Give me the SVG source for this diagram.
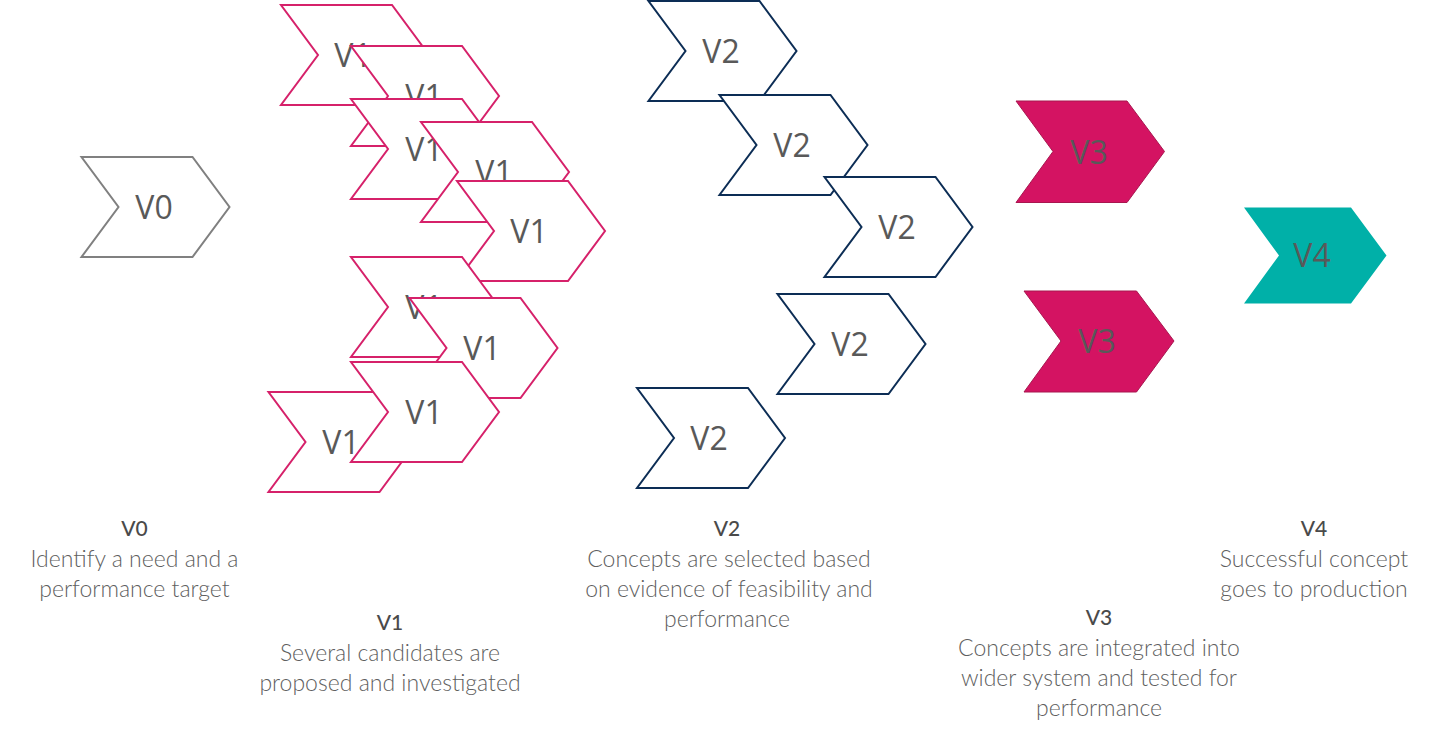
<svg xmlns="http://www.w3.org/2000/svg" xmlns:xlink="http://www.w3.org/1999/xlink" width="1430" height="735" viewBox="0 0 1430 735">
<style>
.v0{fill:#fff;stroke:#808080;stroke-width:2}
.v1{fill:#fff;stroke:#D6216A;stroke-width:2}
.v2{fill:#fff;stroke:#0C2D55;stroke-width:2}
.v3{fill:#D41362;stroke:#A8164F;stroke-width:1}
.v4{fill:#00B0A8}
.t{font-family:"Open Sans","Liberation Sans",sans-serif;font-size:32px;fill:#595959;text-anchor:middle}
.h{font-family:Lato,"Open Sans",sans-serif;font-size:21px;font-weight:500;fill:#4a4a4a;text-anchor:middle}
.d{font-family:Lato,"Open Sans",sans-serif;font-size:23px;font-weight:300;fill:#5f5f5f;text-anchor:middle}
</style>
<defs>
<polygon id="chev" points="0,0 111,0 148,50 111,100 0,100 37,50"/>
</defs>
<rect width="1430" height="735" fill="#fff"/>

<g id="node-v0">
<use xlink:href="#chev" href="#chev" class="v0" x="81.5" y="157"/>
<text class="t" x="154" y="219">V0</text>
</g>

<g id="node-v1-i"><use href="#chev" xlink:href="#chev" class="v1" x="268.5" y="392"/><text class="t" x="341" y="454">V1</text></g>
<g id="node-v1-a"><use href="#chev" xlink:href="#chev" class="v1" x="281" y="5"/><text class="t" x="353" y="67">V1</text></g>
<g id="node-v1-b"><use href="#chev" xlink:href="#chev" class="v1" x="351" y="46"/><text class="t" x="424" y="108">V1</text></g>
<g id="node-v1-c"><use href="#chev" xlink:href="#chev" class="v1" x="351" y="99"/><text class="t" x="424" y="161">V1</text></g>
<g id="node-v1-d"><use href="#chev" xlink:href="#chev" class="v1" x="421" y="122"/><text class="t" x="494" y="184">V1</text></g>
<g id="node-v1-e"><use href="#chev" xlink:href="#chev" class="v1" x="457" y="181"/><text class="t" x="529" y="243">V1</text></g>
<g id="node-v1-f"><use href="#chev" xlink:href="#chev" class="v1" x="351" y="257"/><text class="t" x="424" y="319">V1</text></g>
<g id="node-v1-g"><use href="#chev" xlink:href="#chev" class="v1" x="409.5" y="298"/><text class="t" x="482" y="360">V1</text></g>
<g id="node-v1-h"><use href="#chev" xlink:href="#chev" class="v1" x="351" y="362"/><text class="t" x="424" y="424">V1</text></g>

<g id="node-v2-a"><use href="#chev" xlink:href="#chev" class="v2" x="648.5" y="1"/><text class="t" x="721" y="63">V2</text></g>
<g id="node-v2-b"><use href="#chev" xlink:href="#chev" class="v2" x="719.5" y="95"/><text class="t" x="792" y="157">V2</text></g>
<g id="node-v2-c"><use href="#chev" xlink:href="#chev" class="v2" x="824.5" y="177"/><text class="t" x="897" y="239">V2</text></g>
<g id="node-v2-d"><use href="#chev" xlink:href="#chev" class="v2" x="777.5" y="294"/><text class="t" x="850" y="356">V2</text></g>
<g id="node-v2-e"><use href="#chev" xlink:href="#chev" class="v2" x="637" y="388"/><text class="t" x="709" y="450">V2</text></g>

<g id="node-v3-a"><polygon class="v3" points="1016,101 1127,101 1164.5,151.5 1127,202.5 1016,202.5 1053,151.5"/><text class="t" x="1089" y="164">V3</text></g>
<g id="node-v3-b"><polygon class="v3" points="1024,291 1136.5,291 1174,341 1136.5,392 1024,392 1061,341"/><text class="t" x="1097" y="353">V3</text></g>

<g id="node-v4"><polygon class="v4" points="1244,207.5 1351,207.5 1386.5,255.5 1351,303.5 1244,303.5 1279,255.5"/><text class="t" x="1312" y="267">V4</text></g>

<g id="captions">
<g id="cap-v0"><text class="h" x="134.5" y="536">V0</text><text class="d" x="134.5" y="567">Identify a need and a</text><text class="d" x="134.5" y="597">performance target</text></g>
<g id="cap-v1"><text class="h" x="390" y="630">V1</text><text class="d" x="390" y="661">Several candidates are</text><text class="d" x="390" y="691">proposed and investigated</text></g>
<g id="cap-v2"><text class="h" x="727" y="536">V2</text><text class="d" x="729" y="567">Concepts are selected based</text><text class="d" x="729" y="597">on evidence of feasibility and</text><text class="d" x="727" y="627">performance</text></g>
<g id="cap-v3"><text class="h" x="1099" y="625">V3</text><text class="d" x="1099" y="656">Concepts are integrated into</text><text class="d" x="1099" y="686">wider system and tested for</text><text class="d" x="1099" y="716">performance</text></g>
<g id="cap-v4"><text class="h" x="1314" y="536">V4</text><text class="d" x="1314" y="567">Successful concept</text><text class="d" x="1314" y="597">goes to production</text></g>
</g>
<g id="connectors"/>
</svg>
